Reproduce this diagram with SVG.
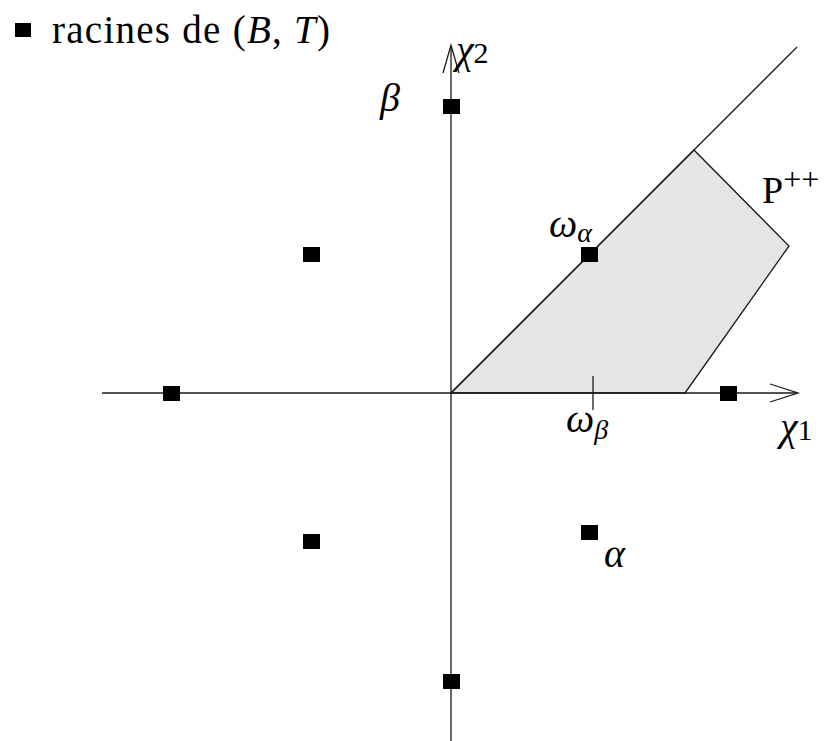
<svg xmlns="http://www.w3.org/2000/svg" width="832" height="741" viewBox="0 0 832 741">
<style>
.ax{stroke:#1a1a1a;stroke-width:1.3;fill:none}
.root{fill:#000}
.t{font-family:"Liberation Serif","DejaVu Serif",serif;fill:#000}
.it{font-style:italic}
</style>
<rect width="832" height="741" fill="#fff"/>
<g id="region">
<polygon points="451,393 694,150 789,246 685,393" fill="#e5e5e5" stroke="#1a1a1a" stroke-width="1.3"/>
</g>
<g id="connectors">
<line class="ax" x1="102" y1="393" x2="797" y2="393"/>
<polyline class="ax" points="770,384 798,393 770,402"/>
<line class="ax" x1="451" y1="741" x2="451" y2="46"/>
<polyline class="ax" points="443,73 451,45 459,73"/>
<line class="ax" x1="451" y1="393" x2="797" y2="47"/>
<line class="ax" x1="593" y1="376" x2="593" y2="410"/>
</g>
<g id="roots">
<rect class="root" x="443" y="99" width="17" height="15"/>
<rect class="root" x="303" y="247" width="17" height="15"/>
<rect class="root" x="581" y="247" width="17" height="15"/>
<rect class="root" x="163" y="386" width="17" height="15"/>
<rect class="root" x="720" y="386" width="17" height="15"/>
<rect class="root" x="303" y="534" width="17" height="15"/>
<rect class="root" x="581" y="525" width="17" height="15"/>
<rect class="root" x="443" y="674" width="17" height="15"/>
</g>
<g id="legend">
<rect class="root" x="15" y="23" width="16" height="14"/>
<text class="t" x="52" y="43" font-size="39" textLength="278" lengthAdjust="spacing">racines de (<tspan class="it">B</tspan>, <tspan class="it">T</tspan>)</text>
</g>
<g id="labels">
<text class="t" x="456" y="63" font-size="40"><tspan class="it">χ</tspan><tspan font-size="30">2</tspan></text>
<text class="t it" x="380" y="111" font-size="40">β</text>
<text class="t" x="762" y="203" font-size="38">P<tspan font-size="32" dy="-13">++</tspan></text>
<text class="t" x="549" y="237" font-size="40"><tspan class="it">ω</tspan><tspan class="it" font-size="28" dy="5">α</tspan></text>
<text class="t" x="566" y="432" font-size="40"><tspan class="it">ω</tspan><tspan class="it" font-size="28" dy="7">β</tspan></text>
<text class="t" x="780" y="440" font-size="40"><tspan class="it">χ</tspan><tspan font-size="30">1</tspan></text>
<text class="t it" x="604" y="567" font-size="40">α</text>
</g>
</svg>
